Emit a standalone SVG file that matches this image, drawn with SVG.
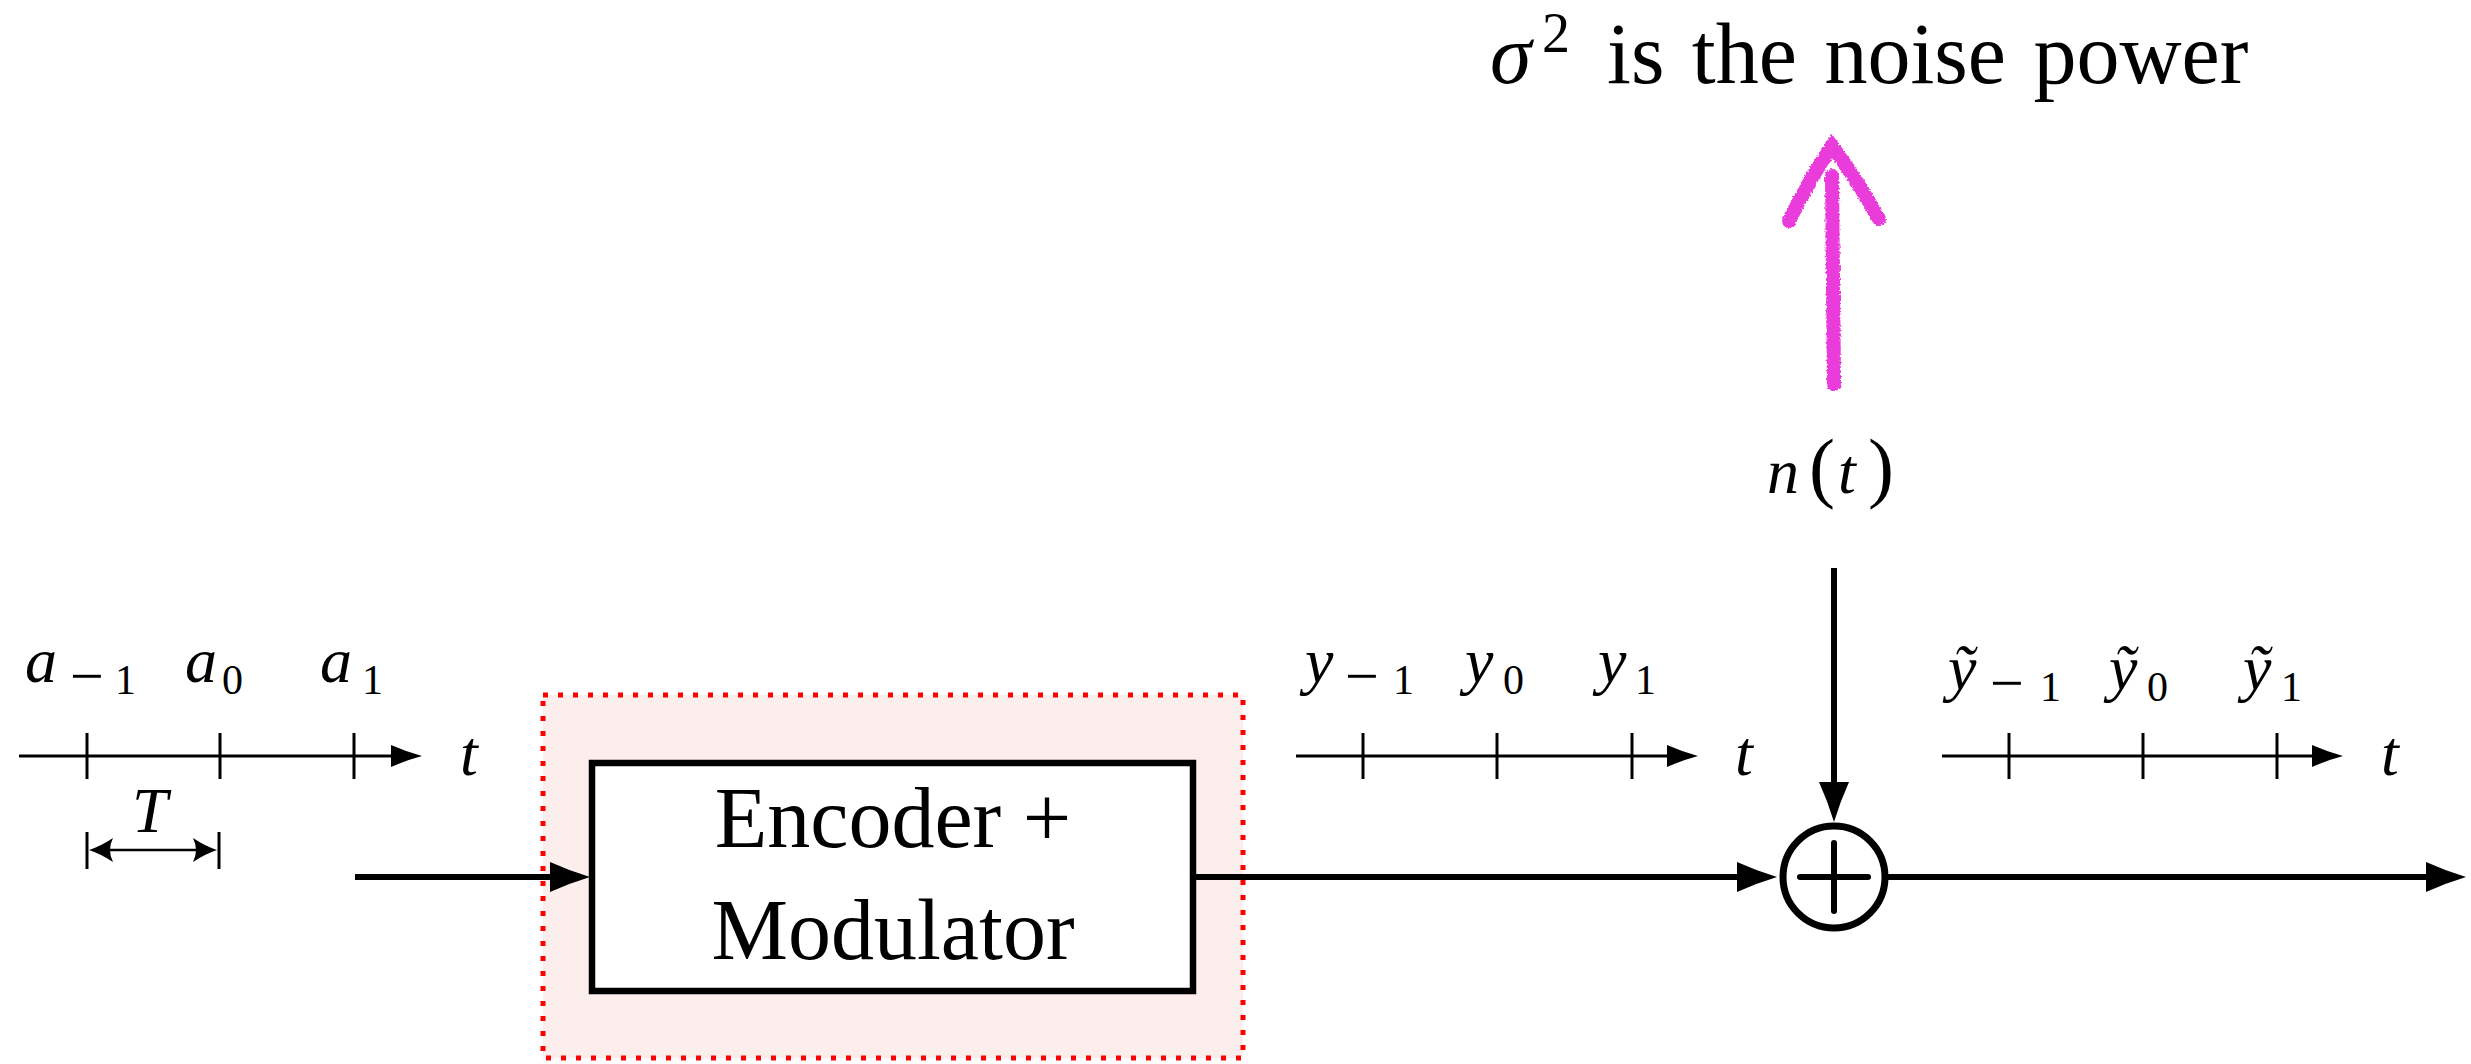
<svg xmlns="http://www.w3.org/2000/svg" xmlns:xlink="http://www.w3.org/1999/xlink" width="2471" height="1064" viewBox="0 0 2471 1064">
<style>
.m{font-family:"Liberation Serif",serif;font-style:italic;font-size:64px;fill:#000}
.s{font-family:"Liberation Serif",serif;font-size:42px;fill:#000}
.mi{font-size:60px}
.r{font-family:"Liberation Serif",serif;fill:#000}
.ax{stroke:#000;stroke-width:3;fill:none}
.thick{stroke:#000;stroke-width:6;fill:none}
</style>
<defs>
<path id="ahBig" d="M0,0 Q-20,-6 -40,-15 L-40,15 Q-20,6 0,0 Z" fill="#000"/>
<path id="ahSmall" d="M0,0 Q-15,-4 -31,-11 L-31,11 Q-15,4 0,0 Z" fill="#000"/>
<path id="ahDim" d="M0,0 Q12,-4 24,-12 Q18,0 24,12 Q12,4 0,0 Z" fill="#000"/>
<filter id="chalk" x="-20%" y="-20%" width="140%" height="140%">
<feTurbulence type="fractalNoise" baseFrequency="0.5" numOctaves="2" seed="3" result="n"/>
<feDisplacementMap in="SourceGraphic" in2="n" scale="4" xChannelSelector="R" yChannelSelector="G"/>
</filter>
</defs>

<g id="note">
<text class="r" x="1490" y="83" font-size="84" font-style="italic">σ</text>
<text class="r" x="1542" y="52" font-size="56">2</text>
<text class="r" x="1607" y="83" font-size="86" word-spacing="6">is the noise power</text>
<g filter="url(#chalk)" stroke="#ea3bdb" stroke-width="14" stroke-linecap="round" fill="none">
<path d="M1834,384 L1832,176"/>
<path d="M1789,221 Q1810,178 1832,146 Q1856,178 1879,219"/>
</g>
</g>

<g id="noise-label">
<text class="m" x="1767" y="493" font-size="78">n</text>
<text class="r" x="1809" y="493" font-size="78">(</text>
<text class="m" x="1838" y="493" font-size="78">t</text>
<text class="r" x="1868" y="493" font-size="78">)</text>
</g>

<g id="input-axis">
<line class="ax" x1="19" y1="756" x2="395" y2="756"/>
<line class="ax" x1="87" y1="733" x2="87" y2="779"/>
<line class="ax" x1="220" y1="733" x2="220" y2="779"/>
<line class="ax" x1="354" y1="733" x2="354" y2="779"/>
<use href="#ahSmall" transform="translate(422,756)"/>
<text class="m" x="460" y="775">t</text>
<text class="m" x="25" y="682">a</text>
<text class="s"><tspan class="mi" x="70" y="696">−</tspan><tspan x="115" y="694">1</tspan></text>
<text class="m" x="185" y="682">a</text>
<text class="s" x="222" y="694">0</text>
<text class="m" x="320" y="682">a</text>
<text class="s" x="362" y="694">1</text>
<line class="ax" x1="87" y1="832" x2="87" y2="869"/>
<line class="ax" x1="219" y1="832" x2="219" y2="869"/>
<line x1="100" y1="850" x2="206" y2="850" stroke="#000" stroke-width="2.5"/>
<use href="#ahDim" transform="translate(89,850)"/>
<use href="#ahDim" transform="translate(217,850) rotate(180)"/>
<text class="m" x="132" y="832">T</text>
</g>

<g id="mid-axis">
<line class="ax" x1="1296" y1="756" x2="1672" y2="756"/>
<line class="ax" x1="1363" y1="733" x2="1363" y2="779"/>
<line class="ax" x1="1497" y1="733" x2="1497" y2="779"/>
<line class="ax" x1="1632" y1="733" x2="1632" y2="779"/>
<use href="#ahSmall" transform="translate(1698,756)"/>
<text class="m" x="1735" y="775">t</text>
<text class="m" x="1305" y="682">y</text>
<text class="s"><tspan class="mi" x="1345" y="696">−</tspan><tspan x="1393" y="694">1</tspan></text>
<text class="m" x="1465" y="682">y</text>
<text class="s" x="1503" y="694">0</text>
<text class="m" x="1598" y="682">y</text>
<text class="s" x="1635" y="694">1</text>
</g>

<g id="out-axis">
<line class="ax" x1="1942" y1="756" x2="2317" y2="756"/>
<line class="ax" x1="2009" y1="733" x2="2009" y2="779"/>
<line class="ax" x1="2143" y1="733" x2="2143" y2="779"/>
<line class="ax" x1="2277" y1="733" x2="2277" y2="779"/>
<use href="#ahSmall" transform="translate(2343,756)"/>
<text class="m" x="2381" y="775">t</text>
<text class="m" x="1948" y="689">ỹ</text>
<text class="s"><tspan class="mi" x="1990" y="703">−</tspan><tspan x="2040" y="701">1</tspan></text>
<text class="m" x="2109" y="689">ỹ</text>
<text class="s" x="2147" y="701">0</text>
<text class="m" x="2243" y="689">ỹ</text>
<text class="s" x="2281" y="701">1</text>
</g>

<g id="encoder">
<rect x="543" y="695" width="700" height="363" fill="#fdeeee" stroke="#ff0000" stroke-width="5" stroke-dasharray="5 10"/>
<rect x="592" y="763" width="601" height="228" fill="#fff" stroke="#000" stroke-width="6.5"/>
<text class="r" x="893" y="847" font-size="86" text-anchor="middle">Encoder +</text>
<text class="r" x="893" y="959" font-size="86" text-anchor="middle">Modulator</text>
</g>

<g id="adder">
<circle cx="1834" cy="877" r="51" fill="#fff" stroke="#000" stroke-width="7"/>
<line x1="1800" y1="877" x2="1868" y2="877" stroke="#000" stroke-width="6" stroke-linecap="round"/>
<line x1="1834" y1="843" x2="1834" y2="911" stroke="#000" stroke-width="6" stroke-linecap="round"/>
</g>

<g id="connectors">
<line class="thick" x1="355" y1="877" x2="560" y2="877"/>
<use href="#ahBig" transform="translate(590,877)"/>
<line class="thick" x1="1196" y1="877" x2="1750" y2="877"/>
<use href="#ahBig" transform="translate(1777,877)"/>
<line class="thick" x1="1834" y1="568" x2="1834" y2="795"/>
<use href="#ahBig" transform="translate(1834,822) rotate(90)"/>
<line class="thick" x1="1888" y1="877" x2="2440" y2="877"/>
<use href="#ahBig" transform="translate(2466,877)"/>
</g>
</svg>
